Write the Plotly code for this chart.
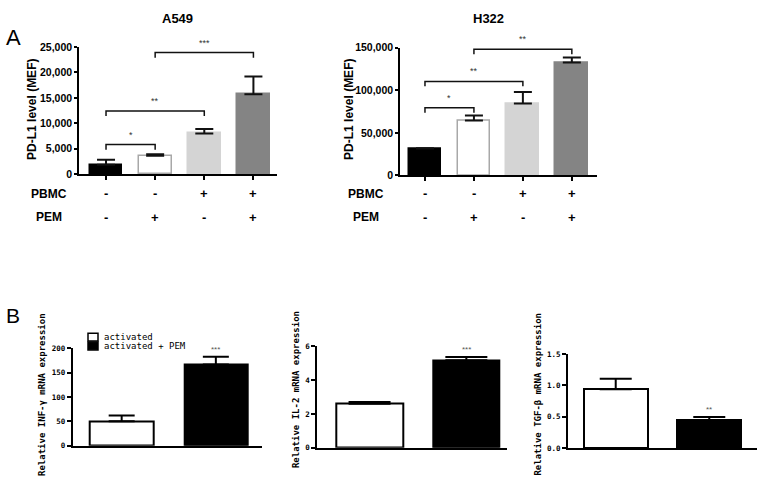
import plotly.graph_objects as go

W, H = 762, 491

# ---------------- data ----------------
conditions = [0, 1, 2, 3]
pbmc_signs = ["-", "-", "+", "+"]
pem_signs = ["-", "+", "-", "+"]

a549_mean = [1850, 3600, 8000, 15700]
a549_err = [950, 300, 850, 3500]
a549_brackets = [(0, 1, 5800, "*"), (0, 2, 12400, "**"), (1, 3, 23900, "***")]

h322_mean = [31500, 64500, 84500, 132500]
h322_err = [500, 6000, 13500, 6000]
h322_brackets = [(0, 1, 79500, "*"), (0, 2, 110400, "**"), (1, 3, 148200, "**")]

groups = ["activated", "activated + PEM"]
inf_mean = [50, 167]
inf_err = [12, 16]
il2_mean = [2.6, 5.18]
il2_err = [0.1, 0.2]
tgf_mean = [0.935, 0.44]
tgf_err = [0.17, 0.055]
b_sig = ["***", "***", "**"]

# ---------------- styles ----------------
a_fill = ["#000000", "#ffffff", "#d4d4d4", "#848484"]
a_line = ["#000000", "#a8a8a8", "#d4d4d4", "#848484"]
b_fill = ["#ffffff", "#000000"]

FA = "Liberation Sans"
FB = "DejaVu Sans Mono"


def px(x):
    return x / W


def py(y):
    return 1 - y / H


fig = go.Figure()
annotations = []
shapes = []


def note(x, y, text, font, xanchor="center", yanchor="middle", **kw):
    d = dict(x=px(x), y=py(y), xref="paper", yref="paper", text=text,
             showarrow=False, xanchor=xanchor, yanchor=yanchor, font=font)
    d.update(kw)
    annotations.append(d)


def panel_a(xa, ya, means, errs, brackets, leg, title, title_x, ytitle_x, rowlab_x):
    fig.add_trace(go.Bar(
        x=conditions, y=means, width=0.67, xaxis=xa, yaxis=ya,
        marker=dict(color=a_fill, line=dict(color=a_line, width=1.5)),
        error_y=dict(type="data", symmetric=False, array=errs,
                     arrayminus=[0] * len(errs), color="#111111",
                     thickness=2, width=9),
        showlegend=False, hoverinfo="skip",
    ))
    for i, j, h, s in brackets:
        fig.add_trace(go.Scatter(
            x=[i, i, j, j], y=[h - leg, h, h, h - leg], mode="lines",
            xaxis=xa, yaxis=ya, line=dict(color="#111111", width=1.5),
            showlegend=False, hoverinfo="skip", cliponaxis=False,
        ))
        annotations.append(dict(
            x=(i + j) / 2, y=h, xref=xa, yref=ya, text=s, showarrow=False,
            xanchor="center", yanchor="bottom", yshift=3,
            font=dict(family=FA, size=9, color="#333")))
    bold13 = dict(family=FA, size=13, color="black", weight="bold")
    for i in conditions:
        annotations.append(dict(x=i, y=py(192.7), xref=xa, yref="paper",
                                text=pbmc_signs[i], showarrow=False,
                                xanchor="center", yanchor="middle", font=bold13))
        annotations.append(dict(x=i, y=py(216.7), xref=xa, yref="paper",
                                text=pem_signs[i], showarrow=False,
                                xanchor="center", yanchor="middle", font=bold13))
    bold12 = dict(family=FA, size=12, color="black", weight="bold")
    note(rowlab_x, 192.7, "PBMC", bold12)
    note(rowlab_x, 216.7, "PEM", bold12)
    note(title_x, 12.5, title, bold13)
    note(ytitle_x, 106.5, "PD-L1 level (MEF)", bold12, textangle=-90)


def panel_b(xa, ya, means, errs, sig, cap, width, ytitle, ytitle_x, ytitle_y):
    fig.add_trace(go.Bar(
        x=[0, 1], y=means, width=width, xaxis=xa, yaxis=ya,
        marker=dict(color=b_fill, line=dict(color="black", width=2)),
        error_y=dict(type="data", symmetric=False, array=errs, arrayminus=[0, 0],
                     color="black", thickness=2, width=cap),
        showlegend=False, hoverinfo="skip",
    ))
    annotations.append(dict(x=1, y=means[1] + errs[1], xref=xa, yref=ya, text=sig,
                            showarrow=False, xanchor="center", yanchor="bottom",
                            yshift=1, font=dict(family=FA, size=8, color="#555")))
    note(ytitle_x, ytitle_y, ytitle,
         dict(family=FB, size=9, color="black", weight="bold"), textangle=-90)


panel_a("x", "y", a549_mean, a549_err, a549_brackets, 1000, "A549", 177.5, 32, 49)
panel_a("x2", "y2", h322_mean, h322_err, h322_brackets, 5800, "H322", 488.3, 349, 365.5)

panel_b("x3", "y3", inf_mean, inf_err, b_sig[0], 13, 0.67,
        "Relative INF-γ mRNA expression", 42.7, 398)
panel_b("x4", "y4", il2_mean, il2_err, b_sig[1], 21, 0.69,
        "Relative IL-2 mRNA expression", 296.7, 393)
panel_b("x5", "y5", tgf_mean, tgf_err, b_sig[2], 16, 0.68,
        "Relative TGF-β mRNA expression", 538.3, 398)

# legend for panel B
leg_y = [339.5, 348.5]
for k, g in enumerate(groups):
    shapes.append(dict(type="rect", xref="paper", yref="paper",
                       x0=px(88), x1=px(98), y0=py(leg_y[k] - 4), y1=py(leg_y[k] + 4),
                       fillcolor=b_fill[k], line=dict(color="black", width=1.5)))
    note(102, leg_y[k], g, dict(family=FB, size=9, color="black"), xanchor="left")

# panel letters
note(13, 32, "A", dict(family=FA, size=22, color="black"))
note(13, 317.5, "B", dict(family=FA, size=21, color="black"))

a_x = dict(showline=True, linecolor="black", linewidth=1.5, ticks="outside",
           ticklen=4, tickcolor="black", tickwidth=1.5, showticklabels=False,
           showgrid=False, zeroline=False, tickvals=conditions)
a_y = dict(showline=True, linecolor="black", linewidth=1.5, ticks="outside",
           ticklen=3, tickcolor="black", tickwidth=1.5, showgrid=False,
           zeroline=False, tickformat=",",
           tickfont=dict(family=FA, size=10.5, color="black", weight="bold"))
b_x = dict(showline=True, linecolor="black", linewidth=2, ticks="",
           showticklabels=False, showgrid=False, zeroline=False)
b_y = dict(showline=True, linecolor="black", linewidth=2, ticks="outside",
           ticklen=4, tickcolor="black", tickwidth=2, showgrid=False,
           zeroline=False,
           tickfont=dict(family=FB, size=7.5, color="black", weight="bold"))

fig.update_layout(
    width=W, height=H, margin=dict(l=0, r=0, t=0, b=0),
    paper_bgcolor="white", plot_bgcolor="white",
    xaxis=dict(**a_x, domain=[px(79), px(277)], range=[-0.55, 3.48], anchor="y"),
    yaxis=dict(**a_y, domain=[py(172.3), py(42)], range=[0, 25000], dtick=5000, anchor="x"),
    xaxis2=dict(**a_x, domain=[px(400), px(597.3)], range=[-0.51, 3.52], anchor="y2"),
    yaxis2=dict(**a_y, domain=[py(173.7), py(42.7)], range=[0, 150000], dtick=50000, anchor="x2"),
    xaxis3=dict(**b_x, domain=[px(72.7), px(262)], range=[-0.52, 1.49], anchor="y3"),
    yaxis3=dict(**b_y, domain=[py(450.7), py(351)], range=[0, 200], dtick=50, anchor="x3"),
    xaxis4=dict(**b_x, domain=[px(317.3), px(507)], range=[-0.54, 1.42], anchor="y4"),
    yaxis4=dict(**b_y, domain=[py(452.7), py(349)], range=[0, 6], dtick=2, anchor="x4"),
    xaxis5=dict(**b_x, domain=[px(568), px(757)], range=[-0.51, 1.51], anchor="y5"),
    yaxis5=dict(**b_y, domain=[py(453), py(356.7)], range=[0, 1.5], dtick=0.5,
                tickformat=".1f", anchor="x5"),
    annotations=annotations, shapes=shapes, bargap=0,
)

fig.write_html("out.html", config={"displayModeBar": False},
               post_script="document.body.style.margin='0';")
